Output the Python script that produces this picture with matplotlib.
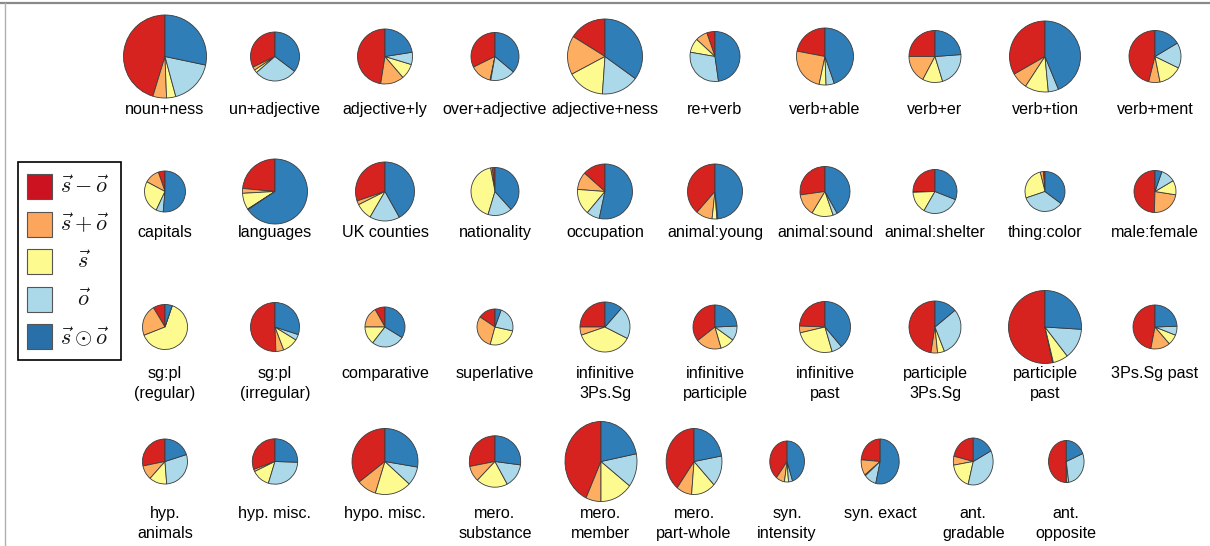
import numpy as np
import matplotlib.pyplot as plt
from matplotlib.patches import Rectangle

W, H = 1210, 546

names = [
    "noun+ness", "un+adjective", "adjective+ly", "over+adjective", "adjective+ness",
    "re+verb", "verb+able", "verb+er", "verb+tion", "verb+ment",
    "capitals", "languages", "UK counties", "nationality", "occupation",
    "animal:young", "animal:sound", "animal:shelter", "thing:color", "male:female",
    "sg:pl\n(regular)", "sg:pl\n(irregular)", "comparative", "superlative", "infinitive\n3Ps.Sg",
    "infinitive\nparticiple", "infinitive\npast", "participle\n3Ps.Sg", "participle\npast", "3Ps.Sg past",
    "hyp.\nanimals", "hyp. misc.", "hypo. misc.", "mero.\nsubstance", "mero.\nmember",
    "mero.\npart-whole", "syn.\nintensity", "syn. exact", "ant.\ngradable", "ant.\nopposite",
]

# share (%) of each composition method per relation
s_minus_o = [45.3, 32.2, 47.5, 32.3, 16.1, 5.3, 22.0, 25.0, 33.3, 46.1,
             5.3, 23.5, 30.2, 1.9, 13.4, 38.6, 27.2, 25.0, 1.4, 49.5,
             8.6, 50.6, 8.2, 15.6, 25.0, 35.6, 24.4, 47.5, 53.4, 47.0,
             28.2, 30.7, 35.7, 28.1, 43.2, 39.7, 39.5, 23.8, 21.4, 50.0]
s_plus_o = [5.3, 2.2, 13.8, 14.4, 16.7, 7.8, 24.7, 17.2, 7.5, 7.0,
            11.9, 2.4, 2.2, 1.1, 10.4, 9.7, 14.2, 0.6, 2.5, 22.9,
            22.4, 5.2, 16.8, 30.1, 5.3, 18.9, 4.3, 4.1, 0.3, 14.3,
            10.3, 1.6, 9.6, 9.9, 6.8, 8.9, 8.0, 11.4, 6.1, 0.6]
s_only = [3.6, 2.0, 9.0, 0.5, 16.1, 9.2, 3.9, 12.5, 10.7, 14.7,
          25.8, 8.2, 9.2, 42.3, 15.1, 2.8, 13.9, 16.1, 26.3, 11.1,
          63.8, 10.4, 14.5, 25.8, 37.2, 10.5, 25.8, 4.3, 6.7, 7.7,
          12.7, 13.0, 17.8, 19.9, 14.6, 14.0, 3.8, 0.7, 18.4, 1.6]
o_only = [17.5, 28.3, 7.2, 16.7, 16.1, 30.0, 4.7, 21.4, 4.7, 15.8,
          5.6, 0.3, 16.5, 16.3, 7.7, 0.6, 2.8, 27.3, 34.5, 11.1,
          0.0, 3.8, 26.7, 22.9, 21.1, 10.7, 6.6, 30.2, 13.6, 6.6,
          28.8, 29.2, 9.2, 15.0, 13.5, 15.1, 3.8, 10.4, 36.6, 29.0]
s_dot_o = [28.3, 35.3, 22.5, 36.1, 35.0, 47.8, 44.7, 23.8, 43.8, 16.4,
           51.4, 65.6, 41.9, 38.3, 53.3, 48.3, 41.9, 31.0, 35.2, 5.3,
           5.2, 30.0, 33.8, 5.5, 11.4, 24.3, 38.9, 13.9, 26.0, 24.4,
           20.0, 25.5, 27.7, 27.1, 21.9, 22.3, 44.9, 53.7, 17.5, 18.8]

# pie radius (px) per relation
radius = [41.5, 24.5, 27.5, 24, 37.5, 25, 28.5, 26, 35.5, 26,
          20.5, 32.5, 29.5, 24, 27.5, 27.5, 25, 22, 20, 21,
          22.5, 24.5, 20, 18, 25, 22, 25.5, 26, 36.5, 22,
          22.5, 22.7, 33, 25.7, 40, 33, 20.5, 22.5, 23.5, 21]

legend_labels = [r"$\vec{s}-\vec{o}$", r"$\vec{s}+\vec{o}$", r"$\vec{s}$",
                 r"$\vec{o}$", r"$\vec{s}\odot\vec{o}$"]
colors = ["#d7231f", "#fdae61", "#fdfa8f", "#abd9e9", "#2f7eb8"]
legend_colors = ["#cc1121", "#fca55d", "#fdfa8f", "#abd9e9", "#2a70a8"]

plt.rcParams["mathtext.fontset"] = "cm"
fig = plt.figure(figsize=(W / 100, H / 100), dpi=100)
bg = fig.add_axes([0, 0, 1, 1])
bg.set_xlim(0, W)
bg.set_ylim(H, 0)
bg.axis("off")

# outer frame
bg.plot([0, W], [2.5, 2.5], color="#8a8a8a", lw=1.6)
bg.plot([5, 5], [2.5, H], color="#b0b0b0", lw=1.0)

row_y = [56.5, 191.5, 327, 461.5]
row_base = [114, 237, 378, 518]
fracs = np.array([s_minus_o, s_plus_o, s_only, o_only, s_dot_o]).T

for i, name in enumerate(names):
    row, col = divmod(i, 10)
    cx = 165 + 110 * col
    cy = row_y[row]
    ry = radius[i]
    rx = ry
    # last row is squeezed horizontally on its right half
    if row == 3 and col >= 4:
        cx = 579 + 0.846 * (cx - 579)
        rx = ry * (0.9 if col == 4 else 0.846)
    pad = 2
    ax = fig.add_axes([(cx - rx - pad) / W, 1 - (cy + ry + pad) / H,
                       2 * (rx + pad) / W, 2 * (ry + pad) / H])
    ax.pie(fracs[i], colors=colors, startangle=90, counterclock=True,
           wedgeprops=dict(edgecolor="#3a3a3a", linewidth=0.6))
    ax.set_aspect("auto")
    ax.set_xlim(-(rx + pad) / rx, (rx + pad) / rx)
    ax.set_ylim(-(ry + pad) / ry, (ry + pad) / ry)
    ax.axis("off")

    for k, line in enumerate(name.split("\n")):
        bg.text(cx, row_base[row] + 20 * k, line, ha="center", va="baseline",
                fontsize=11.6, family="Liberation Sans", color="black")

# legend box
bg.add_patch(Rectangle((18, 162), 103, 198, fill=False, ec="black", lw=1.2))
for k, (lab, c) in enumerate(zip(legend_labels, legend_colors)):
    y = 186.5 + 37.5 * k
    bg.add_patch(Rectangle((27, y - 12.5), 25, 25, fc=c, ec="#555555", lw=0.8))
    bg.text(84, y, lab, ha="center", va="center", fontsize=16, color="#111111")

fig.savefig("out.png", dpi=100)
